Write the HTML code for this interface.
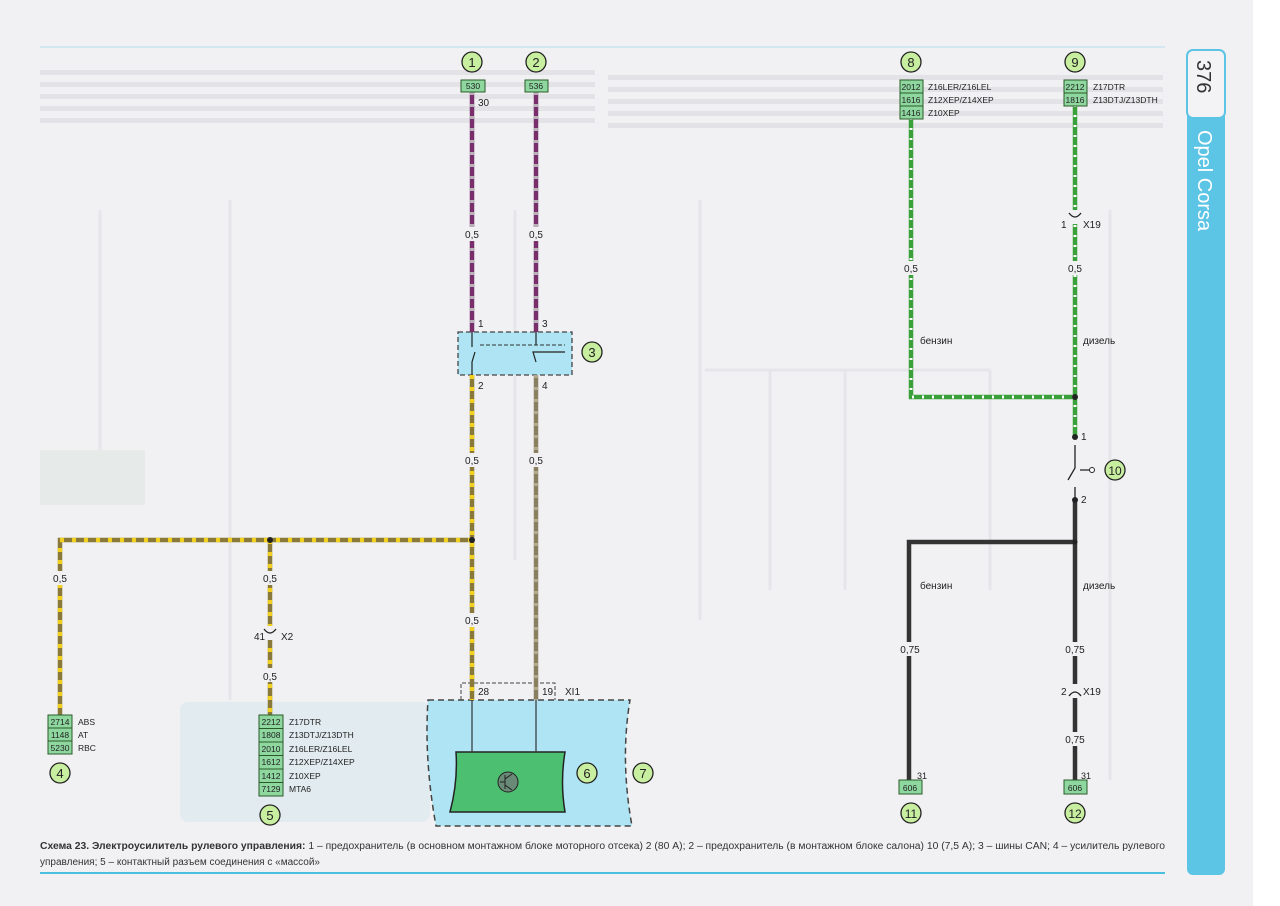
<!DOCTYPE html>
<html><head><meta charset="utf-8"><style>
html,body{margin:0;padding:0;background:#f2f2f4;}
svg{display:block;font-family:"Liberation Sans",sans-serif;}
</style></head><body>
<svg width="1280" height="906" viewBox="0 0 1280 906" xmlns="http://www.w3.org/2000/svg">
<rect width="1280" height="906" fill="#f1f1f3"/>
<rect x="1253" y="0" width="27" height="906" fill="#ffffff"/>
<g fill="#e3e3e7">
<rect x="40" y="70" width="555" height="5"/><rect x="40" y="82" width="555" height="5"/><rect x="40" y="94" width="555" height="5"/><rect x="40" y="106" width="555" height="5"/><rect x="40" y="118" width="555" height="5"/>
<rect x="608" y="75" width="555" height="5"/><rect x="608" y="87" width="555" height="5"/><rect x="608" y="99" width="555" height="5"/><rect x="608" y="111" width="555" height="5"/><rect x="608" y="123" width="555" height="5"/>
</g>
<g stroke="#e6e6ea" stroke-width="3" fill="none">
<path d="M100 210 V500 M230 200 V700 M515 210 V560 M700 200 V620 M705 370 H990 M770 370 V590 M845 370 V590 M990 370 V590 M1110 210 V780"/>
</g>
<rect x="40" y="450" width="105" height="55" fill="#e6eae8"/>
<rect x="180" y="702" width="250" height="120" rx="8" fill="#e2ebf0"/>
<line x1="40" y1="47" x2="1165" y2="47" stroke="#c8e4f0" stroke-width="1.5"/>
<line x1="40" y1="873" x2="1165" y2="873" stroke="#4bbfe0" stroke-width="2"/>
<rect x="1187" y="50" width="38" height="825" rx="6" fill="#5cc4e4"/>
<rect x="1187" y="50" width="38" height="68" rx="6" fill="#f3f3f5" stroke="#5cc4e4" stroke-width="2"/>
<text transform="translate(1197,60) rotate(90)" font-size="20" fill="#333">376</text>
<text transform="translate(1198,130) rotate(90)" font-size="20" fill="#fff">Opel Corsa</text>

<rect x="458" y="332" width="114" height="43" fill="#aee4f3" stroke="#444" stroke-width="1.3" stroke-dasharray="5,3"/>
<path d="M428 700 H630 Q620 760 632 826 H436 Q424 760 428 700Z" fill="#aee4f3" stroke="#444" stroke-width="1.5" stroke-dasharray="6,4"/>
<path d="M461 700 V683 H555 V700" fill="none" stroke="#444" stroke-width="1" stroke-dasharray="4,2"/>
<path d="M456 752 H565 Q560 782 565 812 H450 Q458 782 456 752Z" fill="#4cc070" stroke="#222" stroke-width="1.5"/>
<circle cx="508" cy="782" r="10" fill="#6a8a78" stroke="#222" stroke-width="1"/>
<path d="M505 775 V789 M505 782 H500 M505 779 L512 774 M505 785 L512 790" stroke="#222" stroke-width="1" fill="none"/>
<line x1="472" y1="700" x2="472" y2="752" stroke="#333" stroke-width="1.2"/>
<line x1="536" y1="700" x2="536" y2="752" stroke="#333" stroke-width="1.2"/>

<g stroke-width="4.5" fill="none">
<path d="M472 92 V332 M536 92 V332" stroke="#7b2e6c"/>
<path d="M472 92 V332 M536 92 V332" stroke="#b8b0b8" stroke-dasharray="3,9"/>
<path d="M472 375 V700 M472 540 H60 V715 M270 540 V715" stroke="#8a7a3a"/>
<path d="M472 375 V700 M472 540 H60 V715 M270 540 V715" stroke="#f2d020" stroke-dasharray="4,8"/>
<path d="M536 375 V700" stroke="#8a8060"/>
<path d="M536 375 V700" stroke="#b0aa90" stroke-dasharray="3,9"/>
<path d="M911 118 V397 H1075 M1075 105 V437" stroke="#3aa03a"/>
<path d="M911 118 V397 H1075 M1075 105 V437" stroke="#ffffff" stroke-width="3" stroke-dasharray="2,8"/>
<path d="M1075 500 V780 M1075 542 H909 V780" stroke="#333"/>
</g>
<g fill="#f1f1f3">
<rect x="462" y="227" width="20" height="14"/><rect x="526" y="227" width="20" height="14"/>
<rect x="462" y="453" width="20" height="14"/><rect x="526" y="453" width="20" height="14"/>
<rect x="462" y="613" width="20" height="14"/>
<rect x="50" y="571" width="20" height="14"/><rect x="260" y="571" width="20" height="14"/><rect x="260" y="668" width="20" height="14"/>
<rect x="901" y="261" width="20" height="14"/><rect x="1065" y="261" width="20" height="14"/>
<rect x="897" y="642" width="26" height="14"/><rect x="1061" y="642" width="26" height="14"/><rect x="1061" y="732" width="26" height="14"/>
<rect x="262" y="626" width="16" height="14"/><rect x="1067" y="210" width="16" height="14"/><rect x="1067" y="684" width="16" height="14"/>
</g>
<g font-size="10" fill="#222" text-anchor="middle">
<text x="472" y="238">0,5</text><text x="536" y="238">0,5</text>
<text x="472" y="464">0,5</text><text x="536" y="464">0,5</text><text x="472" y="624">0,5</text>
<text x="60" y="582">0,5</text><text x="270" y="582">0,5</text><text x="270" y="680">0,5</text>
<text x="911" y="272">0,5</text><text x="1075" y="272">0,5</text>
<text x="910" y="653">0,75</text><text x="1075" y="653">0,75</text><text x="1075" y="743">0,75</text>
</g>
<g fill="none" stroke="#222" stroke-width="1.3">
<path d="M264 629 Q270 637 276 629"/><path d="M1069 213 Q1075 221 1081 213"/><path d="M1069 696 Q1075 688 1081 696"/>
<path d="M1075 445 V468 L1068 480 M1075 487 V500 M1080 470 H1090"/>
<path d="M472 375 V362 L475 352 M536 362 L533 352 H565 M472 332 V347 M536 332 V345" stroke-width="1.2"/>
</g>
<path d="M480 345 H565" stroke="#333" stroke-dasharray="4,2" stroke-width="1"/>
<circle cx="1092" cy="470" r="2.5" fill="#fff" stroke="#222"/>
<g fill="#222"><circle cx="472" cy="540" r="3"/><circle cx="270" cy="540" r="3"/><circle cx="1075" cy="397" r="3"/><circle cx="1075" cy="437" r="3"/><circle cx="1075" cy="500" r="3"/><circle cx="1075" cy="542" r="2.5"/></g>
<g font-size="10" fill="#222">
<text x="254" y="640">41</text><text x="281" y="640">X2</text>
<text x="1061" y="228">1</text><text x="1083" y="228">X19</text>
<text x="1061" y="695">2</text><text x="1083" y="695">X19</text>
<text x="1081" y="440">1</text><text x="1081" y="503">2</text>
<text x="478" y="327">1</text><text x="542" y="327">3</text><text x="478" y="389">2</text><text x="542" y="389">4</text>
<text x="478" y="106">30</text>
<text x="478" y="695">28</text><text x="542" y="695">19</text><text x="565" y="695">XI1</text>
<text x="917" y="779" font-size="9">31</text><text x="1081" y="779" font-size="9">31</text>
<text x="920" y="344">бензин</text><text x="1083" y="344">дизель</text>
<text x="920" y="589">бензин</text><text x="1083" y="589">дизель</text>
</g>
<g font-size="8.5" fill="#222" stroke="#2a5a2a" stroke-width="1">
<rect x="461" y="80" width="24" height="12" fill="#8ed8a0"/><rect x="525" y="80" width="23" height="12" fill="#8ed8a0"/>
<rect x="900" y="80" width="23" height="13" fill="#8ed8a0"/><rect x="900" y="93" width="23" height="13" fill="#8ed8a0"/><rect x="900" y="106" width="23" height="13" fill="#8ed8a0"/>
<rect x="1064" y="80" width="23" height="13" fill="#8ed8a0"/><rect x="1064" y="93" width="23" height="13" fill="#8ed8a0"/>
<rect x="48" y="715" width="24" height="13" fill="#8ed8a0"/><rect x="48" y="728" width="24" height="13" fill="#8ed8a0"/><rect x="48" y="741" width="24" height="13" fill="#8ed8a0"/>
<rect x="259" y="715" width="24" height="13.5" fill="#8ed8a0"/><rect x="259" y="728.5" width="24" height="13.5" fill="#8ed8a0"/><rect x="259" y="742" width="24" height="13.5" fill="#8ed8a0"/><rect x="259" y="755.5" width="24" height="13.5" fill="#8ed8a0"/><rect x="259" y="769" width="24" height="13.5" fill="#8ed8a0"/><rect x="259" y="782.5" width="24" height="13.5" fill="#8ed8a0"/>
<rect x="899" y="780" width="23" height="14" fill="#8ed8a0"/><rect x="1064" y="780" width="23" height="14" fill="#8ed8a0"/>
</g>
<g font-size="8.5" fill="#222" text-anchor="middle">
<text x="473" y="89">530</text><text x="536" y="89">536</text>
<text x="911" y="90">2012</text><text x="911" y="103">1616</text><text x="911" y="116">1416</text>
<text x="1075" y="90">2212</text><text x="1075" y="103">1816</text>
<text x="60" y="725">2714</text><text x="60" y="738">1148</text><text x="60" y="751">5230</text>
<text x="271" y="725">2212</text><text x="271" y="738">1808</text><text x="271" y="752">2010</text><text x="271" y="765">1612</text><text x="271" y="779">1412</text><text x="271" y="792">7129</text>
<text x="910" y="791">606</text><text x="1075" y="791">606</text>
</g>
<g font-size="8.5" fill="#222">
<text x="928" y="90">Z16LER/Z16LEL</text><text x="928" y="103">Z12XEP/Z14XEP</text><text x="928" y="116">Z10XEP</text>
<text x="1093" y="90">Z17DTR</text><text x="1093" y="103">Z13DTJ/Z13DTH</text>
<text x="78" y="725">ABS</text><text x="78" y="738">AT</text><text x="78" y="751">RBC</text>
<text x="289" y="725">Z17DTR</text><text x="289" y="738">Z13DTJ/Z13DTH</text><text x="289" y="752">Z16LER/Z16LEL</text><text x="289" y="765">Z12XEP/Z14XEP</text><text x="289" y="779">Z10XEP</text><text x="289" y="792">MTA6</text>
</g>
<g fill="#c8eea0" stroke="#222" stroke-width="1.3">
<circle cx="472" cy="62" r="10"/><circle cx="536" cy="62" r="10"/><circle cx="592" cy="352" r="10"/>
<circle cx="60" cy="773" r="10"/><circle cx="270" cy="815" r="10"/><circle cx="587" cy="773" r="10"/><circle cx="643" cy="773" r="10"/>
<circle cx="911" cy="62" r="10"/><circle cx="1075" cy="62" r="10"/><circle cx="1115" cy="470" r="10"/>
<circle cx="911" cy="813" r="10"/><circle cx="1075" cy="813" r="10"/>
</g>
<g font-size="13" fill="#222" text-anchor="middle">
<text x="472" y="67">1</text><text x="536" y="67">2</text><text x="592" y="357">3</text>
<text x="60" y="778">4</text><text x="270" y="820">5</text><text x="587" y="778">6</text><text x="643" y="778">7</text>
<text x="911" y="67">8</text><text x="1075" y="67">9</text><text x="1115" y="475" font-size="12">10</text>
<text x="911" y="818" font-size="12">11</text><text x="1075" y="818" font-size="12">12</text>
</g>
<text x="40" y="849" font-size="10" fill="#333" textLength="1125" lengthAdjust="spacingAndGlyphs"><tspan font-weight="bold">Схема 23. Электроусилитель рулевого управления:</tspan> 1 – предохранитель (в основном монтажном блоке моторного отсека) 2 (80 А); 2 – предохранитель (в монтажном блоке салона) 10 (7,5 А); 3 – шины CAN; 4 – усилитель рулевого</text>
<text x="40" y="865" font-size="10" fill="#333" textLength="280" lengthAdjust="spacingAndGlyphs">управления; 5 – контактный разъем соединения с «массой»</text>
</svg>
</body></html>
